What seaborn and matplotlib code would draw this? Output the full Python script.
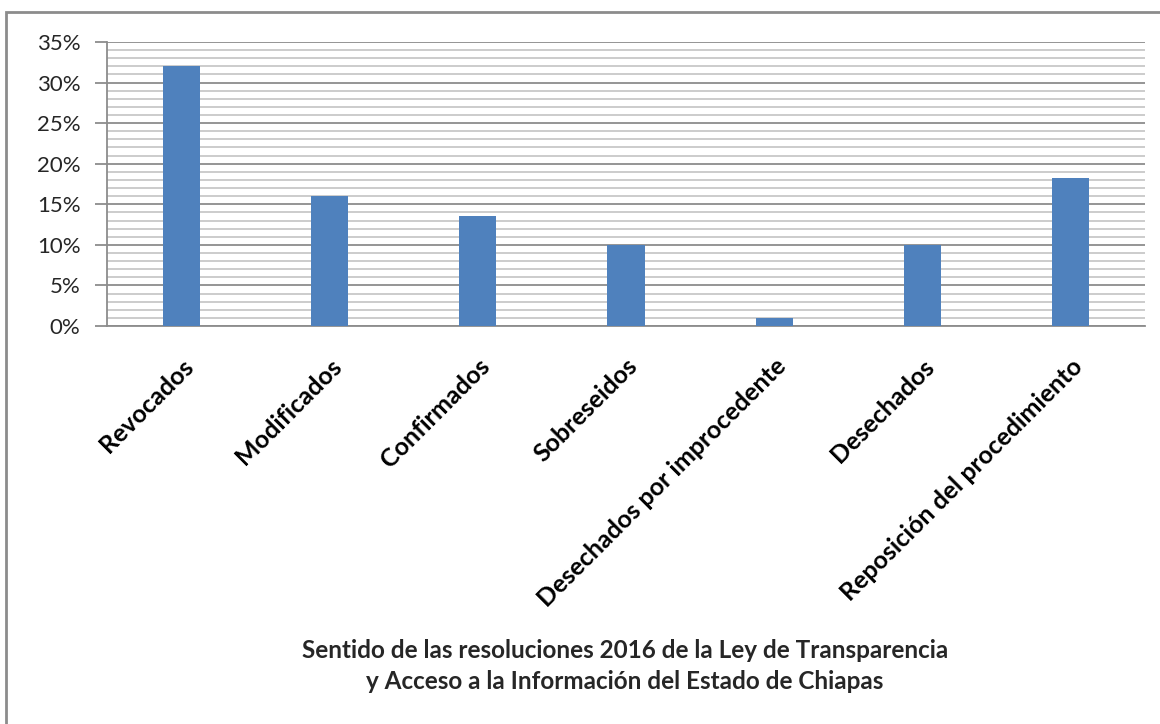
import pandas as pd
import matplotlib.pyplot as plt
import seaborn as sns
from matplotlib.ticker import MultipleLocator, PercentFormatter
from matplotlib.patches import Rectangle

categorias = ['Revocados', 'Modificados', 'Confirmados', 'Sobreseidos',
              'Desechados por improcedente', 'Desechados',
              'Reposición del procedimiento']
porcentajes = [32.0, 16.0, 13.6, 10.0, 1.0, 10.0, 18.2]
titulo = ('Sentido de las resoluciones 2016 de la Ley de Transparencia\n'
          'y Acceso a la Información del Estado de Chiapas')

df = pd.DataFrame({'categoria': categorias, 'porcentaje': porcentajes})

sns.set_style('white')
plt.rcParams['font.family'] = ['Lato', 'DejaVu Sans']

W, H = 1160, 724
fig = plt.figure(figsize=(W / 100, H / 100), dpi=100)
ax = fig.add_axes([107 / W, 1 - 326 / H, (1145 - 107) / W, (326 - 42) / H])

sns.barplot(data=df, x='categoria', y='porcentaje', color='#4F81BD',
            width=0.25, saturation=1, linewidth=0, ax=ax, zorder=3)

ax.set_ylim(0, 35)
ax.set_xlim(-0.5, len(categorias) - 0.5)
ax.yaxis.set_major_locator(MultipleLocator(5))
ax.yaxis.set_minor_locator(MultipleLocator(1))
ax.yaxis.set_major_formatter(PercentFormatter(decimals=0))
ax.grid(which='major', axis='y', color='#8c8c8c', linewidth=1.3, zorder=0)
ax.grid(which='minor', axis='y', color='#c8c8c8', linewidth=1.3, zorder=0)
ax.set_axisbelow(True)

for s in ['top', 'right']:
    ax.spines[s].set_visible(False)
for s in ['left', 'bottom']:
    ax.spines[s].set_color('#8c8c8c')
    ax.spines[s].set_linewidth(1.3)

ax.tick_params(axis='y', which='major', left=True, length=9, width=1.3,
               color='#8c8c8c', labelsize=16, labelcolor='#262626', pad=10)
ax.tick_params(axis='y', which='minor', left=False)
ax.tick_params(axis='x', bottom=False, pad=17)
ax.set_xlabel('')
ax.set_ylabel('')
ax.set_xticks(range(len(categorias)))
ax.set_xticklabels(categorias, rotation=45, ha='right', rotation_mode='anchor',
                   fontsize=18, fontweight='bold', color='black')

fig.text(625 / W, 1 - 666 / H, titulo, ha='center', va='center',
         fontsize=17.5, fontweight='bold', linespacing=1.45)

# marco del gráfico
fig.patches.append(Rectangle((6 / W, -0.1), 1.2, 1 - 12 / H + 0.1,
                             transform=fig.transFigure, fill=False,
                             edgecolor='#8c8c8c', linewidth=2))

fig.savefig('out.png', dpi=100)
